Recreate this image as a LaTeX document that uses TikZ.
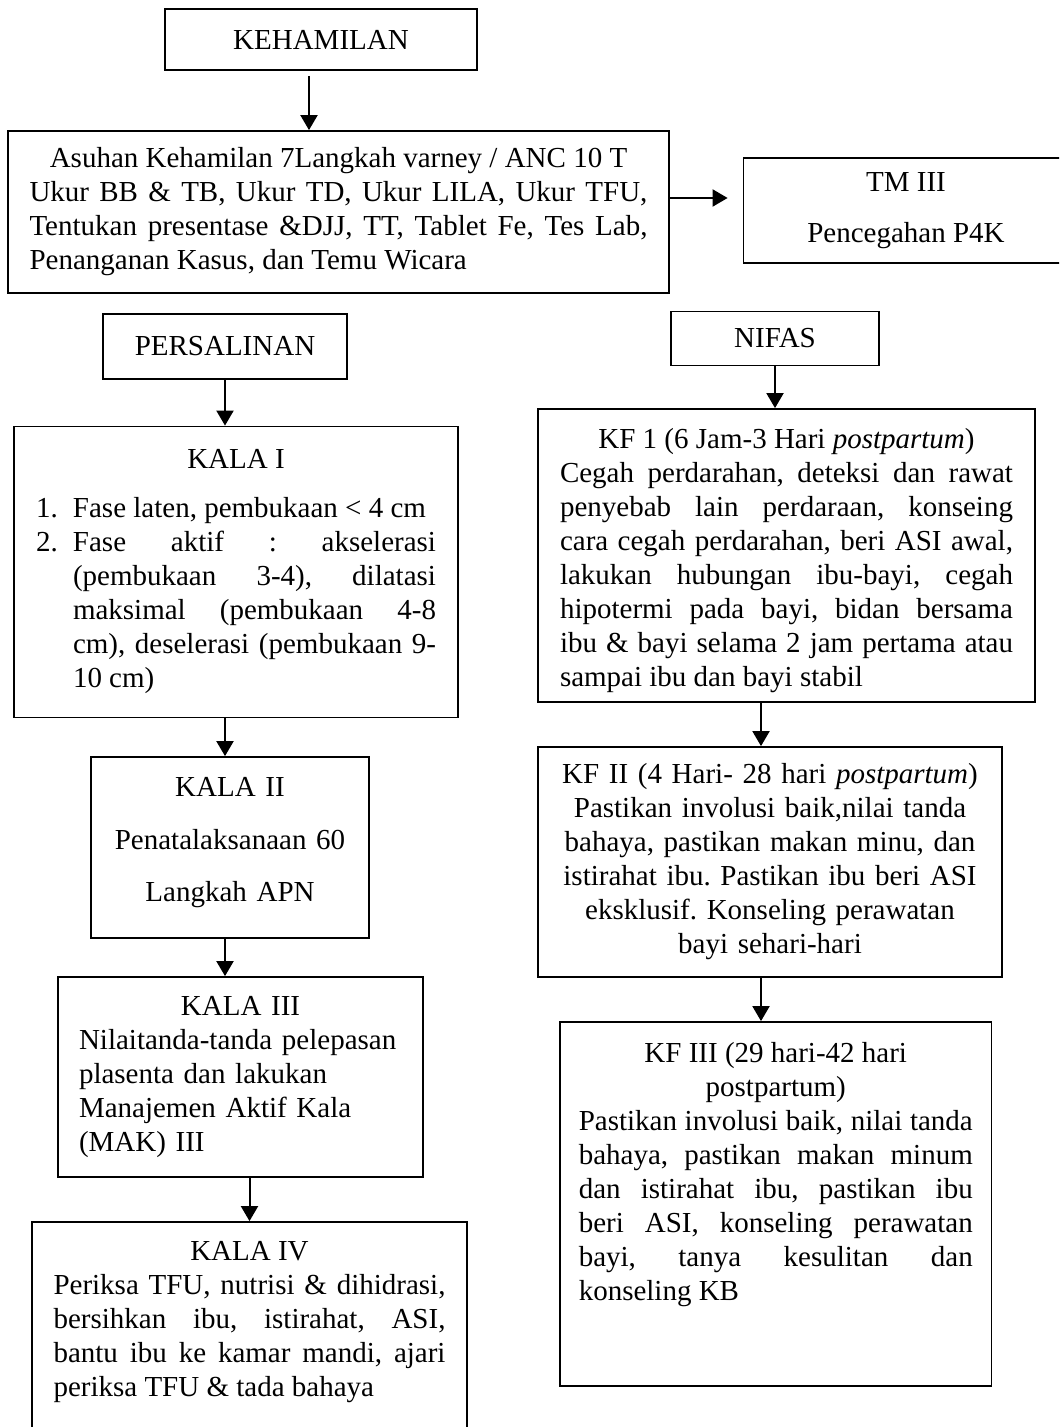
\documentclass[tikz,border=0pt]{standalone}
\usepackage{fontspec}
\setmainfont{Liberation Serif}
\usetikzlibrary{arrows.meta}
\setlength{\parindent}{0pt}
\tikzstyle{kotak} = [draw, line width=0.9pt, inner sep=0pt, font=\fontsize{14.5}{17}\selectfont\frenchspacing]
\tikzstyle{panah} = [-{Triangle[width=8.5pt,length=7.5pt]}, line width=1pt]

\begin{document}
\begin{tikzpicture}[x=0.5pt, y=-0.5pt]
      \useasboundingbox (0,0) rectangle (1059,1427);
      \clip (0,0) rectangle (1059,1427);
      \node[kotak, minimum width=156pt, minimum height=30.5pt] (hamil) at (321,39.5) {KEHAMILAN};
      \node[kotak, minimum width=330.5pt, minimum height=81pt, text width=309pt, align=justify] (asuhan) at (338.5,212)
        {{\centering Asuhan Kehamilan 7Langkah varney / ANC 10 T\par}
         Ukur BB \& TB, Ukur TD, Ukur LILA, Ukur TFU,\linebreak
         Tentukan presentase \&DJJ, TT, Tablet Fe, Tes Lab,\linebreak
         Penanganan Kasus, dan Temu Wicara};
      \node[kotak, minimum width=162.5pt, minimum height=52.5pt, align=center] (tm3) at (906,210.5) {TM III\\[8.5pt] Pencegahan P4K};
      \node[kotak, minimum width=122pt, minimum height=32.5pt] (salin) at (225,346.5) {PERSALINAN};
      \node[kotak, minimum width=104pt, minimum height=27pt] (nifas) at (775,338.5) {NIFAS};
      \node[kotak, minimum width=222pt, minimum height=145.5pt, text width=200pt, align=justify] (kala1) at (236,572)
        {{\centering KALA I\par}\vspace{7.5pt}
         \makebox[18.5pt][l]{1.}Fase laten, pembukaan < 4 cm\par
         \makebox[18.5pt][l]{2.}\parbox[t]{181.5pt}{Fase aktif : akselerasi\linebreak
         (pembukaan 3-4), dilatasi\linebreak maksimal (pembukaan 4-8\linebreak
         cm), deselerasi (pembukaan 9-\linebreak 10 cm)}};
      \node[kotak, minimum width=139pt, minimum height=90.5pt, text width=130pt, align=center] (kala2) at (230,847.5)
        {KALA II\\[9.25pt] Penatalaksanaan 60\\[9.25pt] Langkah APN\rule[-8pt]{0pt}{0pt}};
      \node[kotak, minimum width=182.5pt, minimum height=100pt, text width=161.5pt, align=left] (kala3) at (240.5,1077)
        {{\centering KALA III\par}Nilaitanda-tanda pelepasan\\ plasenta dan lakukan\\ Manajemen Aktif Kala\\ (MAK) III};
      \node[kotak, minimum width=217.5pt, minimum height=114pt, text width=196pt, align=justify] (kala4) at (249.5,1336)
        {{\centering KALA IV\par}Periksa TFU, nutrisi \& dihidrasi,\linebreak
         bersihkan ibu, istirahat, ASI,\linebreak bantu ibu ke kamar mandi, ajari\linebreak
         periksa TFU \& tada bahaya\rule[-17pt]{0pt}{0pt}};
      \node[kotak, minimum width=248.5pt, minimum height=146.5pt, text width=226.5pt, align=justify] (kf1) at (786.5,555.5)
        {{\centering\rule{0pt}{15.5pt}KF 1 (6 Jam-3 Hari \textit{postpartum})\par}
         Cegah perdarahan, deteksi dan rawat\linebreak penyebab lain perdaraan, konseing\linebreak
         cara cegah perdarahan, beri ASI awal,\linebreak lakukan hubungan ibu-bayi, cegah\linebreak
         hipotermi pada bayi, bidan bersama\linebreak ibu \& bayi selama 2 jam pertama atau\linebreak
         sampai ibu dan bayi stabil};
      \node[kotak, minimum width=232pt, minimum height=115pt, text width=220pt, align=center] (kf2) at (770,862)
        {KF II (4 Hari- 28 hari \textit{postpartum})\\ Pastikan involusi baik,nilai tanda\\
         bahaya, pastikan makan minu, dan\\ istirahat ibu. Pastikan ibu beri ASI\\
         eksklusif. Konseling perawatan\\ bayi sehari-hari};
      \node[kotak, minimum width=215.75pt, minimum height=182pt, text width=197pt, align=justify] (kf3) at (775.75,1204)
        {{\centering KF III (29 hari-42 hari\\ postpartum)\par}
         Pastikan involusi baik, nilai tanda\linebreak bahaya, pastikan makan minum\linebreak
         dan istirahat ibu, pastikan ibu\linebreak beri ASI, konseling perawatan\linebreak
         bayi, tanya kesulitan dan\linebreak konseling KB\rule[-33pt]{0pt}{0pt}};
      \draw[panah] ([xshift=-6pt,yshift=-2.5pt]hamil.south) -- ([xshift=-6pt]hamil.south |- asuhan.north);
      \draw[panah] ([yshift=7pt]asuhan.east) -- ([yshift=7pt,xshift=-7.5pt]asuhan.east -| tm3.west);
      \draw[panah] (salin.south) -- (salin.south |- kala1.north);
      \draw[panah] (salin.south |- kala1.south) -- (salin.south |- kala2.north);
      \draw[panah] (salin.south |- kala2.south) -- (salin.south |- kala3.north);
      \draw[panah] (kala4.north |- kala3.south) -- (kala4.north);
      \draw[panah] (nifas.south) -- (nifas.south |- kf1.north);
      \draw[panah] ([xshift=-4.5pt]kf2.north |- kf1.south) -- ([xshift=-4.5pt]kf2.north);
      \draw[panah] ([xshift=-4.5pt]kf2.south) -- ([xshift=-4.5pt]kf2.south |- kf3.north);
    \end{tikzpicture}
\end{document}
